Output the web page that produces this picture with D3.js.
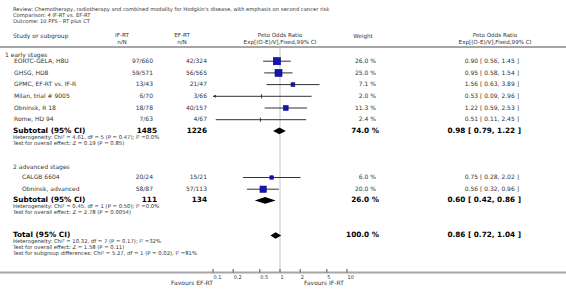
<!DOCTYPE html>
<html>
<head>
<meta charset="utf-8">
<script src="https://cdn.jsdelivr.net/npm/d3@7.9.0/dist/d3.min.js"></script>
<style>
  body { margin: 0; background: #fff; }
  svg { display: block; font-family: "DejaVu Sans", Verdana, sans-serif; }
</style>
</head>
<body>
<svg id="chart" width="566" height="296"></svg>
<script>
// ---- data ----
const titleLines = [
  "Review:  Chemotherapy, radiotherapy and combined modality for Hodgkin's disease, with emphasis on second cancer risk",
  "Comparison:  4 IF-RT vs. EF-RT",
  "Outcome:  10 PFS - RT plus CT"
];
const groupLabels = ["1 early stages", "2 advanced stages"];
const studyNames = ["EORTC-GELA, H8U", "GHSG, HD8", "GPMC, EF-RT vs. IF-R", "Milan, trial # 9005",
  "Obninsk, R 18", "Rome, HD 94", "CALGB 6604", "Obninsk, advanced"];
const studyGroup = [0, 0, 0, 0, 0, 0, 1, 1];
const ifRT = ["97/660", "59/571", "13/43", "6/70", "18/78", "7/63", "20/24", "58/87"];
const efRT = ["42/324", "56/565", "21/47", "3/66", "40/157", "4/67", "15/21", "57/113"];
const weights = [26.0, 25.0, 7.1, 2.0, 11.3, 2.4, 6.0, 20.0];
const oddsRatio = [0.90, 0.95, 1.56, 0.53, 1.22, 0.51, 0.75, 0.56];
const ciLow = [0.56, 0.58, 0.63, 0.09, 0.59, 0.11, 0.28, 0.32];
const ciHigh = [1.45, 1.54, 3.89, 2.96, 2.53, 2.45, 2.02, 0.96];

const subtotalIF = [1485, 111];
const subtotalEF = [1226, 134];
const subtotalWeight = [74.0, 26.0];
const subtotalOR = [0.98, 0.60];
const subtotalLow = [0.79, 0.42];
const subtotalHigh = [1.22, 0.86];
const subtotalNotes = [
  ["Heterogeneity: Chi\u00b2 = 4.61, df = 5 (P = 0.47); I\u00b2 =0.0%", "Test for overall effect: Z = 0.19 (P = 0.85)"],
  ["Heterogeneity: Chi\u00b2 = 0.45, df = 1 (P = 0.50); I\u00b2 =0.0%", "Test for overall effect: Z = 2.78 (P = 0.0054)"]
];

const totalWeight = 100.0;
const totalOR = 0.86, totalLow = 0.72, totalHigh = 1.04;
const totalNotes = [
  "Heterogeneity: Chi\u00b2 = 10.32, df = 7 (P = 0.17); I\u00b2 =32%",
  "Test for overall effect: Z = 1.58 (P = 0.11)",
  "Test for subgroup differences: Chi\u00b2 = 5.27, df = 1 (P = 0.02), I\u00b2 =81%"
];
const axisTicks = [0.1, 0.2, 0.5, 1, 2, 5, 10];
const favours = ["Favours EF-RT", "Favours IF-RT"];

// ---- layout ----
const svg = d3.select("#chart");
const x = d3.scaleLog().domain([0.1, 10]).range([213, 347]);
const col = { name: 13, study: 14, study2: 22, ifR: 153, efR: 207, ifC: 122, efC: 182, wR: 376, ciR: 519, ciC: 495, plotC: 280 };
const step = 11.7;
// first row offset below each group label, differs per group in the original
const groups = [{ top: 55.5, first: 5.7, labelX: 5, studyX: col.study },
                { top: 167.5, first: 10, labelX: col.name, studyX: col.study2 }];
const totalY = 235.5, axisY = 272.5, headerLine = 47;
const fmt = v => v.toFixed(2);
const ciText = (o, l, h) => `${fmt(o)} [ ${fmt(l)}, ${fmt(h)} ]`;

function txt(xp, yp, s, opt = {}) {
  return svg.append("text")
    .attr("x", xp).attr("y", yp)
    .attr("dominant-baseline", "middle")
    .attr("text-anchor", opt.anchor || "start")
    .attr("font-size", opt.size || 6)
    .attr("font-weight", opt.bold ? "bold" : "normal")
    .attr("fill", opt.fill || "#333")
    .text(s);
}

// header
titleLines.forEach((t, i) => txt(col.name, 9.5 + i * 6, t, { size: 5.2 }));
txt(col.name, 36, "Study or subgroup", { size: 6 });
txt(col.ifC, 35.5, "IF-RT", { size: 5.6, anchor: "middle" });
txt(col.ifC, 42.5, "n/N", { size: 5.6, anchor: "middle" });
txt(col.efC, 35.5, "EF-RT", { size: 5.6, anchor: "middle" });
txt(col.efC, 42.5, "n/N", { size: 5.6, anchor: "middle" });
txt(col.plotC, 35.5, "Peto Odds Ratio", { size: 5.6, anchor: "middle" });
txt(col.plotC, 42.5, "Exp[(O-E)/V],Fixed,99% CI", { size: 5.6, anchor: "middle" });
txt(363, 36, "Weight", { size: 5.6, anchor: "middle" });
txt(col.ciC, 35.5, "Peto Odds Ratio", { size: 5.6, anchor: "middle" });
txt(col.ciC, 42.5, "Exp[(O-E)/V],Fixed,99% CI", { size: 5.6, anchor: "middle" });

svg.append("line").attr("x1", 0).attr("x2", 566).attr("y1", headerLine).attr("y2", headerLine)
  .attr("stroke", "#a6a6a6").attr("stroke-width", 2);

// no-effect line
svg.append("line").attr("x1", x(1)).attr("x2", x(1)).attr("y1", headerLine + 1).attr("y2", axisY)
  .attr("stroke", "#e2e2e2").attr("stroke-width", 2);

function diamond(yc, o, l, h) {
  const hh = 3.3;
  svg.append("path")
    .attr("d", `M${x(l)},${yc} L${x(o)},${yc - hh} L${x(h)},${yc} L${x(o)},${yc + hh} Z`)
    .attr("fill", "#000");
}

groups.forEach((gr, g) => {
  txt(gr.labelX, gr.top, groupLabels[g], { size: 6 });
  const idx = studyNames.map((d, i) => i).filter(i => studyGroup[i] === g);
  idx.forEach((i, k) => {
    const yc = gr.top + gr.first + k * step;
    txt(gr.studyX, yc, studyNames[i], { size: 6 });
    txt(col.ifR, yc, ifRT[i], { size: 6, anchor: "end" });
    txt(col.efR, yc, efRT[i], { size: 6, anchor: "end" });
    txt(col.wR, yc, weights[i].toFixed(1) + " %", { size: 6, anchor: "end" });
    txt(col.ciR, yc, ciText(oddsRatio[i], ciLow[i], ciHigh[i]), { size: 6, anchor: "end" });

    const [d0, d1] = x.domain();
    const lo = Math.max(ciLow[i], d0), hi = Math.min(ciHigh[i], d1);
    svg.append("line").attr("x1", x(lo)).attr("x2", x(hi)).attr("y1", yc).attr("y2", yc)
      .attr("stroke", "#333").attr("stroke-width", 1);
    if (ciLow[i] < d0) {
      svg.append("path").attr("d", `M${x(d0)},${yc} l3,-1.5 l0,3 Z`).attr("fill", "#333");
    }
    const side = 1.4 * Math.sqrt(weights[i]);
    if (side < 3) {
      svg.append("line").attr("x1", x(oddsRatio[i])).attr("x2", x(oddsRatio[i]))
        .attr("y1", yc - 2).attr("y2", yc + 2).attr("stroke", "#333").attr("stroke-width", 1);
    } else {
      svg.append("rect").attr("x", x(oddsRatio[i]) - side / 2).attr("y", yc - side / 2)
        .attr("width", side).attr("height", side)
        .attr("fill", "#1414b4").attr("stroke", "#00007a").attr("stroke-width", 0.6);
    }
  });
  const sy = gr.top + gr.first + idx.length * step - 0.5;
  txt(col.name, sy, "Subtotal (95% CI)", { size: 7.3, bold: true, fill: "#000" });
  txt(col.ifR + 4, sy, subtotalIF[g], { size: 7.3, bold: true, fill: "#000", anchor: "end" });
  txt(col.efR, sy, subtotalEF[g], { size: 7.3, bold: true, fill: "#000", anchor: "end" });
  txt(col.wR + 3, sy, subtotalWeight[g].toFixed(1) + " %", { size: 7.3, bold: true, fill: "#000", anchor: "end" });
  txt(col.ciR + 2, sy, ciText(subtotalOR[g], subtotalLow[g], subtotalHigh[g]), { size: 7.3, bold: true, fill: "#000", anchor: "end" });
  diamond(sy, subtotalOR[g], subtotalLow[g], subtotalHigh[g]);
  subtotalNotes[g].forEach((n, k) => txt(col.name, sy + 6.5 + k * 6, n, { size: 5.3 }));
});

// total
txt(col.name, totalY, "Total (95% CI)", { size: 7.3, bold: true, fill: "#000" });
txt(col.wR + 3, totalY, totalWeight.toFixed(1) + " %", { size: 7.3, bold: true, fill: "#000", anchor: "end" });
txt(col.ciR + 2, totalY, ciText(totalOR, totalLow, totalHigh), { size: 7.3, bold: true, fill: "#000", anchor: "end" });
diamond(totalY, totalOR, totalLow, totalHigh);
totalNotes.forEach((n, k) => txt(col.name, totalY + 6.5 + k * 6, n, { size: 5.3 }));

// axis
svg.append("line").attr("x1", 0).attr("x2", 566).attr("y1", axisY).attr("y2", axisY)
  .attr("stroke", "#a6a6a6").attr("stroke-width", 2);
axisTicks.forEach(t => {
  svg.append("line").attr("x1", x(t)).attr("x2", x(t)).attr("y1", axisY - 3.5).attr("y2", axisY)
    .attr("stroke", "#555").attr("stroke-width", 1);
  txt(x(t) + 0.5, axisY + 5, d3.format("~g")(t), { size: 5 });
});
txt(x(0.1), axisY + 10.5, favours[0], { size: 6, anchor: "end" });
txt(x(1) + 24, axisY + 10.5, favours[1], { size: 6 });
</script>
</body>
</html>
